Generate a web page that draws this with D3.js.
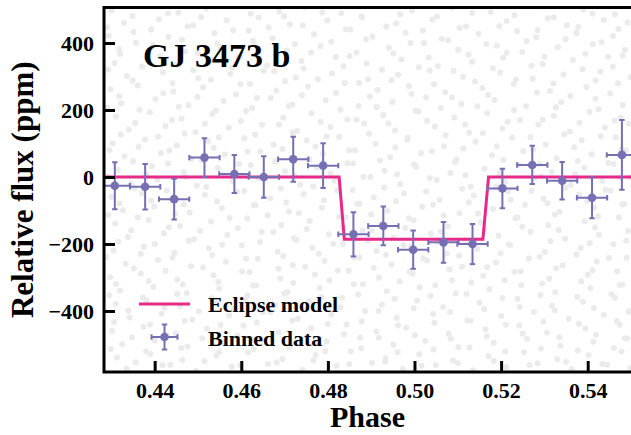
<!DOCTYPE html>
<html>
<head>
<meta charset="utf-8">
<script src="https://cdn.jsdelivr.net/npm/d3@7"></script>
<style>
    body { margin: 0; background: white; }
    svg { display: block; font-family: "Liberation Serif", "Times New Roman", serif; font-weight: bold; }
</style>
</head>
<body>
<svg id="chart"></svg>
<script>
// Binned secondary eclipse data (phase, relative flux in ppm)
const binPhase = [0.4308, 0.4378, 0.4445, 0.4515, 0.4584, 0.4652, 0.4720, 0.4789, 0.4859,
    0.4928, 0.4997, 0.5067, 0.5134, 0.5203, 0.5272, 0.5341, 0.5410, 0.5479]
const binFlux = [-26, -29, -66, 58, 9, 0, 53, 34, -171, -146, -217, -195, -200, -34, 36, -11, -62, 66]
const binFluxErr = [70, 68, 61, 58, 57, 62, 67, 67, 66, 58, 57, 61, 60, 59, 57, 56, 61, 104]
const binPhaseErr = 0.0035

// Eclipse model
const modelPhase = [0.420, 0.4826, 0.4838, 0.5158, 0.5171, 0.560]
const modelFlux = [0, 0, -186, -186, 0, 0]

// Unbinned points (grey background), [phase, ppm]
const rawPoints = [
    [0.4301,498],[0.4372,512],[0.4455,490],[0.4519,503],[0.4603,515],[0.4688,494],[0.4747,507],[0.4831,489],[0.4920,511],[0.4994,497],[0.5087,505],[0.5176,492],[0.5262,509],[0.5390,499],[0.5463,486],
    [0.4329,460],[0.4410,471],[0.4489,452],[0.4566,468],[0.4640,476],[0.4712,455],[0.4799,467],[0.4877,479],[0.4958,458],[0.5041,470],[0.5119,449],[0.5213,466],[0.5308,474],[0.5352,453],[0.5437,469],[0.5492,461],
    [0.4294,422],[0.4351,433],[0.4432,418],[0.4538,429],[0.4617,437],[0.4672,414],[0.4768,426],[0.4852,440],[0.4903,419],[0.4979,431],[0.5063,412],[0.5148,428],[0.5237,436],[0.5281,417],[0.5374,430],[0.5458,421],
    [0.4318,382],[0.4396,394],[0.4470,375],[0.4551,389],[0.4629,398],[0.4705,378],[0.4783,391],[0.4866,372],[0.4941,386],[0.5022,399],[0.5101,380],[0.5190,392],[0.5249,373],[0.5331,387],[0.5412,396],[0.5486,379],
    [0.4307,340],[0.4383,352],[0.4448,336],[0.4527,348],[0.4594,357],[0.4660,333],[0.4739,346],[0.4818,358],[0.4889,339],[0.4970,351],[0.5054,331],[0.5133,344],[0.5205,356],[0.5296,337],[0.5366,349],[0.5447,359],
    [0.4336,301],[0.4419,312],[0.4501,295],[0.4575,308],[0.4652,317],[0.4726,297],[0.4810,309],[0.4893,292],[0.4962,305],[0.5035,318],[0.5112,299],[0.5198,311],[0.5273,293],[0.5344,306],[0.5429,315],[0.5499,298],
    [0.4298,262],[0.4361,273],[0.4443,255],[0.4512,268],[0.4598,277],[0.4681,258],[0.4754,270],[0.4839,281],[0.4915,260],[0.4987,272],[0.5071,253],[0.5157,266],[0.5229,278],[0.5313,257],[0.5397,269],[0.5470,280],
    [0.4323,220],[0.4402,232],[0.4478,214],[0.4559,227],[0.4636,236],[0.4718,216],[0.4795,229],[0.4871,212],[0.4949,224],[0.5027,237],[0.5108,218],[0.5185,230],[0.5258,211],[0.5339,223],[0.5418,234],[0.5481,215],
    [0.4311,181],[0.4389,193],[0.4462,175],[0.4533,188],[0.4611,197],[0.4697,177],[0.4762,190],[0.4845,172],[0.4928,185],[0.5009,196],[0.5092,178],[0.5168,191],[0.5244,170],[0.5322,183],[0.5404,195],[0.5476,176],
    [0.4340,141],[0.4425,152],[0.4494,134],[0.4571,147],[0.4648,156],[0.4729,137],[0.4806,149],[0.4884,160],[0.4955,139],[0.5047,151],[0.5126,132],[0.5203,145],[0.5286,157],[0.5359,136],[0.5440,148],[0.5495,159],
    [0.4303,100],[0.4378,112],[0.4451,94],[0.4523,107],[0.4607,116],[0.4675,96],[0.4751,109],[0.4826,120],[0.4910,99],[0.4983,111],[0.5068,92],[0.5141,105],[0.5226,117],[0.5303,97],[0.5386,110],[0.5465,119],
    [0.4330,61],[0.4414,72],[0.4485,54],[0.4562,67],[0.4644,76],[0.4715,57],[0.4789,69],[0.4862,80],[0.4944,59],[0.5015,71],[0.5097,52],[0.5179,65],[0.5251,77],[0.5328,56],[0.5409,68],[0.5488,79],
    [0.4315,21],[0.4393,32],[0.4467,14],[0.4546,27],[0.4622,36],[0.4701,17],[0.4774,29],[0.4858,40],[0.4931,19],[0.5004,31],[0.5083,12],[0.5162,25],[0.5240,37],[0.5317,16],[0.5392,28],[0.5460,39],
    [0.4345,-19],[0.4406,-8],[0.4497,-26],[0.4580,-13],[0.4656,-4],[0.4736,-23],[0.4815,-11],[0.4898,0],[0.4967,-21],[0.5051,-9],[0.5130,-28],[0.5209,-15],[0.5279,-3],[0.5361,-24],[0.5434,-12],[0.5497,-1],
    [0.4300,-60],[0.4371,-48],[0.4438,-66],[0.4516,-53],[0.4590,-44],[0.4667,-63],[0.4744,-51],[0.4822,-40],[0.4906,-61],[0.4976,-49],[0.5058,-68],[0.5137,-55],[0.5216,-43],[0.5298,-64],[0.5380,-52],[0.5453,-41],
    [0.4327,-99],[0.4399,-88],[0.4481,-106],[0.4555,-93],[0.4633,-84],[0.4710,-103],[0.4786,-91],[0.4868,-80],[0.4938,-101],[0.5018,-89],[0.5104,-108],[0.5181,-95],[0.5255,-83],[0.5335,-104],[0.5415,-92],[0.5484,-81],
    [0.4309,-139],[0.4386,-128],[0.4459,-146],[0.4530,-133],[0.4614,-124],[0.4692,-143],[0.4758,-131],[0.4841,-120],[0.4922,-141],[0.4998,-129],[0.5077,-148],[0.5153,-135],[0.5233,-123],[0.5309,-144],[0.5393,-132],[0.5472,-121],
    [0.4338,-179],[0.4421,-168],[0.4491,-186],[0.4568,-173],[0.4647,-164],[0.4722,-183],[0.4802,-171],[0.4880,-160],[0.4952,-181],[0.5038,-169],[0.5116,-188],[0.5194,-175],[0.5268,-163],[0.5348,-184],[0.5426,-172],[0.5493,-161],
    [0.4305,-219],[0.4375,-208],[0.4446,-226],[0.4525,-213],[0.4601,-204],[0.4684,-223],[0.4764,-211],[0.4835,-200],[0.4913,-221],[0.4991,-209],[0.5074,-228],[0.5145,-215],[0.5221,-203],[0.5301,-224],[0.5384,-212],[0.5459,-201],
    [0.4333,-259],[0.4408,-248],[0.4484,-266],[0.4564,-253],[0.4638,-244],[0.4719,-263],[0.4792,-251],[0.4873,-240],[0.4947,-261],[0.5029,-249],[0.5110,-268],[0.5188,-255],[0.5264,-243],[0.5342,-264],[0.5421,-252],[0.5490,-241],
    [0.4297,-299],[0.4368,-288],[0.4452,-306],[0.4536,-293],[0.4619,-284],[0.4690,-303],[0.4770,-291],[0.4848,-280],[0.4918,-301],[0.4996,-289],[0.5086,-308],[0.5159,-295],[0.5231,-283],[0.5311,-304],[0.5400,-292],[0.5468,-281],
    [0.4320,-339],[0.4397,-328],[0.4474,-346],[0.4549,-333],[0.4627,-324],[0.4707,-343],[0.4781,-331],[0.4860,-320],[0.4936,-341],[0.5012,-329],[0.5095,-348],[0.5173,-335],[0.5247,-323],[0.5325,-344],[0.5406,-332],[0.5480,-321],
    [0.4310,-379],[0.4381,-368],[0.4458,-386],[0.4540,-373],[0.4609,-364],[0.4679,-383],[0.4757,-371],[0.4833,-360],[0.4925,-381],[0.5006,-369],[0.5066,-388],[0.5150,-375],[0.5238,-363],[0.5318,-384],[0.5389,-372],[0.5463,-361],
    [0.4342,-419],[0.4416,-408],[0.4487,-426],[0.4572,-413],[0.4650,-404],[0.4731,-423],[0.4808,-411],[0.4886,-400],[0.4959,-421],[0.5043,-409],[0.5122,-428],[0.5200,-415],[0.5276,-403],[0.5356,-424],[0.5437,-412],[0.5496,-401],
    [0.4302,-459],[0.4374,-448],[0.4449,-466],[0.4521,-453],[0.4605,-444],[0.4686,-463],[0.4761,-451],[0.4843,-440],[0.4912,-461],[0.4981,-449],[0.5079,-468],[0.5164,-455],[0.5242,-443],[0.5306,-464],[0.5395,-452],[0.5474,-441],
    [0.4325,-499],[0.4400,-488],[0.4476,-506],[0.4557,-493],[0.4631,-484],[0.4713,-503],[0.4797,-491],[0.4875,-480],[0.4951,-501],[0.5025,-489],[0.5101,-508],[0.5183,-495],[0.5260,-483],[0.5337,-504],[0.5413,-492],[0.5486,-481],
    [0.4313,-539],[0.4390,-528],[0.4464,-546],[0.4543,-533],[0.4616,-524],[0.4695,-543],[0.4772,-531],[0.4853,-520],[0.4933,-541],[0.5011,-529],[0.5089,-548],[0.5171,-535],[0.5253,-523],[0.5330,-544],[0.5402,-532],[0.5478,-521],
    [0.4335,-572],[0.4418,-562],[0.4495,-578],[0.4578,-566],[0.4662,-558],[0.4741,-575],[0.4820,-563],[0.4902,-555],[0.4973,-573],[0.5049,-561],[0.5135,-577],[0.5212,-567],[0.5284,-556],[0.5363,-574],[0.5445,-560],[0.5499,-570],
    [0.4349,481],[0.4431,489],[0.4507,478],[0.4622,487],[0.4699,480],[0.4787,491],[0.4879,476],[0.4967,486],[0.5052,479],[0.5133,490],[0.5231,483],[0.5322,477],[0.5411,488],
    [0.4290,447],[0.4392,440],[0.4476,450],[0.4581,438],[0.4663,446],[0.4742,452],[0.4841,441],[0.4935,449],[0.5019,437],[0.5104,445],[0.5196,451],[0.5284,439],[0.5378,448],[0.5471,442],
    [0.4357,401],[0.4463,410],[0.4545,399],[0.4627,407],[0.4724,396],[0.4808,404],[0.4888,411],[0.4991,400],[0.5078,408],[0.5166,397],[0.5259,405],[0.5349,412],[0.5432,402],
    [0.4320,367],[0.4412,360],[0.4500,370],[0.4597,358],[0.4683,366],[0.4761,372],[0.4850,361],[0.4951,369],[0.5033,357],[0.5125,365],[0.5213,371],[0.5300,359],[0.5395,368],[0.5481,362],
    [0.4293,321],[0.4371,330],[0.4489,319],[0.4579,327],[0.4676,316],[0.4744,324],[0.4836,331],[0.4925,320],[0.5010,328],[0.5090,317],[0.5181,325],[0.5270,332],[0.5388,322],[0.5458,329],
    [0.4349,287],[0.4441,280],[0.4530,290],[0.4620,278],[0.4701,286],[0.4777,292],[0.4872,281],[0.4947,289],[0.5045,277],[0.5140,285],[0.5234,291],[0.5321,279],[0.5418,288],
    [0.4318,241],[0.4420,250],[0.4499,239],[0.4588,247],[0.4668,236],[0.4740,244],[0.4819,251],[0.4897,240],[0.4993,248],[0.5087,237],[0.5170,245],[0.5283,252],[0.5360,242],[0.5452,249],
    [0.4291,207],[0.4365,200],[0.4456,210],[0.4541,198],[0.4625,206],[0.4710,212],[0.4829,201],[0.4913,209],[0.5002,197],[0.5061,205],[0.5145,211],[0.5230,199],[0.5327,208],[0.5425,202],
    [0.4355,161],[0.4440,170],[0.4516,159],[0.4599,167],[0.4687,156],[0.4783,164],[0.4866,171],[0.4940,160],[0.5029,168],[0.5117,157],[0.5215,165],[0.5296,172],[0.5381,162],[0.5462,169],
    [0.4322,127],[0.4408,120],[0.4469,130],[0.4548,118],[0.4632,126],[0.4719,132],[0.4797,121],[0.4895,129],[0.4985,117],[0.5072,125],[0.5158,131],[0.5268,119],[0.5346,128],[0.5430,122],
    [0.4296,81],[0.4363,90],[0.4434,79],[0.4536,87],[0.4615,76],[0.4695,84],[0.4771,91],[0.4849,80],[0.4956,88],[0.5040,77],[0.5113,85],[0.5190,92],[0.5274,82],[0.5369,89],[0.5478,83],
    [0.4350,47],[0.4431,40],[0.4509,50],[0.4595,38],[0.4678,46],[0.4757,52],[0.4845,41],[0.4920,49],[0.4999,37],[0.5094,45],[0.5205,51],[0.5289,39],[0.5377,48],[0.5448,42],
    [0.4292,1],[0.4380,10],[0.4472,-1],[0.4558,7],[0.4639,-4],[0.4723,4],[0.4806,11],[0.4882,0],[0.4960,8],[0.5035,-3],[0.5118,5],[0.5197,12],[0.5292,2],[0.5371,9],[0.5473,-2],
    [0.4354,-33],[0.4428,-40],[0.4519,-30],[0.4607,-42],[0.4691,-34],[0.4766,-28],[0.4857,-39],[0.4930,-31],[0.5027,-43],[0.5110,-35],[0.5189,-29],[0.5270,-41],[0.5349,-32],[0.5441,-38],
    [0.4319,-79],[0.4392,-70],[0.4467,-81],[0.4544,-73],[0.4629,-84],[0.4704,-76],[0.4791,-69],[0.4873,-80],[0.4957,-72],[0.5043,-83],[0.5125,-75],[0.5222,-68],[0.5307,-78],[0.5399,-71],[0.5480,-82],
    [0.4293,-113],[0.4361,-120],[0.4447,-110],[0.4573,-122],[0.4661,-114],[0.4733,-108],[0.4826,-119],[0.4900,-111],[0.4987,-123],[0.5067,-115],[0.5147,-109],[0.5238,-121],[0.5324,-112],[0.5424,-118],
    [0.4346,-159],[0.4433,-150],[0.4505,-161],[0.4592,-153],[0.4674,-164],[0.4751,-156],[0.4835,-149],[0.4901,-160],[0.4979,-152],[0.5061,-163],[0.5162,-155],[0.5249,-148],[0.5333,-158],[0.5417,-151],
    [0.4316,-193],[0.4400,-200],[0.4479,-190],[0.4556,-202],[0.4643,-194],[0.4728,-188],[0.4812,-199],[0.4892,-191],[0.4975,-203],[0.5054,-195],[0.5139,-189],[0.5217,-201],[0.5314,-192],[0.5405,-198],[0.5489,-190],
    [0.4288,-239],[0.4368,-230],[0.4441,-241],[0.4533,-233],[0.4611,-244],[0.4697,-236],[0.4779,-229],[0.4860,-240],[0.4934,-232],[0.5020,-243],[0.5103,-235],[0.5199,-228],[0.5289,-238],[0.5374,-231],[0.5449,-242],
    [0.4352,-273],[0.4425,-280],[0.4512,-270],[0.4602,-282],[0.4686,-274],[0.4748,-268],[0.4823,-279],[0.4906,-271],[0.4989,-283],[0.5081,-275],[0.5168,-269],[0.5245,-281],[0.5327,-272],[0.5411,-278],
    [0.4311,-319],[0.4386,-310],[0.4465,-321],[0.4547,-313],[0.4634,-324],[0.4720,-316],[0.4804,-309],[0.4881,-320],[0.4966,-312],[0.5048,-323],[0.5131,-315],[0.5208,-308],[0.5295,-318],[0.5385,-311],[0.5474,-322],
    [0.4295,-353],[0.4373,-360],[0.4452,-350],[0.4531,-362],[0.4614,-354],[0.4700,-348],[0.4785,-359],[0.4870,-351],[0.4954,-363],[0.5037,-355],[0.5120,-349],[0.5203,-361],[0.5291,-352],[0.5376,-358],[0.5455,-350],
    [0.4339,-399],[0.4423,-390],[0.4502,-401],[0.4584,-393],[0.4667,-404],[0.4745,-396],[0.4829,-389],[0.4917,-400],[0.4998,-392],[0.5082,-403],[0.5161,-395],[0.5243,-388],[0.5324,-398],[0.5414,-391],[0.5494,-402],
    [0.4306,-433],[0.4389,-440],[0.4469,-430],[0.4552,-442],[0.4636,-434],[0.4718,-428],[0.4800,-439],[0.4878,-431],[0.4962,-443],[0.5046,-435],[0.5129,-429],[0.5211,-441],[0.5298,-432],[0.5380,-438],[0.5467,-430],
    [0.4348,-479],[0.4427,-470],[0.4510,-481],[0.4591,-473],[0.4671,-484],[0.4752,-476],[0.4837,-469],[0.4918,-480],[0.5001,-472],[0.5084,-483],[0.5167,-475],[0.5250,-468],[0.5335,-478],[0.5419,-471],[0.5491,-482],
    [0.4299,-513],[0.4380,-520],[0.4461,-510],[0.4549,-522],[0.4629,-514],[0.4711,-508],[0.4794,-519],[0.4877,-511],[0.4961,-523],[0.5044,-515],[0.5127,-509],[0.5210,-521],[0.5292,-512],[0.5377,-518],[0.5461,-510],
    [0.4356,-553],[0.4436,-560],[0.4515,-550],[0.4598,-562],[0.4682,-554],[0.4767,-548],[0.4849,-559],[0.4932,-551],[0.5016,-563],[0.5100,-555],[0.5183,-549],[0.5266,-561],[0.5350,-552],[0.5434,-558]
]

// Ticks and labels
const xTicks = [0.44, 0.46, 0.48, 0.50, 0.52, 0.54]
const yTicks = [-400, -200, 0, 200, 400]
const planetName = "GJ 3473 b"
const legendLabels = ["Eclipse model", "Binned data"]

const width = 631
const height = 435
const plot = { left: 104, right: 631, top: 7.5, bottom: 372 }
const model_color = "#e7298a"
const data_color = "#7570b3"

const svg = d3.select("#chart")
    .attr("width", width)
    .attr("height", height)

const x = d3.scaleLinear()
    .domain([0.4283, 0.5500])
    .range([plot.left, plot.right])

const y = d3.scaleLinear()
    .domain([-582, 506])
    .range([plot.bottom, plot.top])

svg.append("clipPath")
    .attr("id", "plot_clip")
    .append("rect")
    .attr("x", plot.left)
    .attr("y", plot.top)
    .attr("width", plot.right - plot.left)
    .attr("height", plot.bottom - plot.top)

const g = svg.append("g").attr("clip-path", "url(#plot_clip)")

// Raw points
g.selectAll(".raw")
    .data(rawPoints)
    .enter()
    .append("circle")
    .attr("cx", d => x(d[0]))
    .attr("cy", d => y(d[1]))
    .attr("r", 3)
    .attr("fill", "#ebebeb")

// Model
const model_line = d3.line()
    .x(d => x(d[0]))
    .y(d => y(d[1]))

g.append("path")
    .datum(modelPhase.map((p, i) => [p, modelFlux[i]]))
    .attr("d", model_line)
    .attr("fill", "none")
    .attr("stroke", model_color)
    .attr("stroke-width", 3)

// Error bars drawn as one small group per bin
function drawErrorBar(parent, cx, cy, dx, dy) {
    const cap = 2.7
    const bar = parent.append("g")
        .attr("stroke", data_color)
        .attr("stroke-width", 2)
    bar.append("line").attr("x1", cx - dx).attr("x2", cx + dx).attr("y1", cy).attr("y2", cy)
    bar.append("line").attr("x1", cx).attr("x2", cx).attr("y1", cy - dy).attr("y2", cy + dy)
    bar.append("line").attr("x1", cx - dx).attr("x2", cx - dx).attr("y1", cy - cap).attr("y2", cy + cap)
    bar.append("line").attr("x1", cx + dx).attr("x2", cx + dx).attr("y1", cy - cap).attr("y2", cy + cap)
    bar.append("line").attr("x1", cx - cap).attr("x2", cx + cap).attr("y1", cy - dy).attr("y2", cy - dy)
    bar.append("line").attr("x1", cx - cap).attr("x2", cx + cap).attr("y1", cy + dy).attr("y2", cy + dy)
    parent.append("circle")
        .attr("cx", cx)
        .attr("cy", cy)
        .attr("r", 4.3)
        .attr("fill", data_color)
}

binPhase.forEach(function(p, i) {
    const cx = x(p)
    const cy = y(binFlux[i])
    const dx = x(p + binPhaseErr) - cx
    const dy = y(binFlux[i] - binFluxErr[i]) - cy
    drawErrorBar(g, cx, cy, dx, dy)
})

// Axes (ticks point inward)
const x_axis = svg.append("g")
    .attr("transform", `translate(0,${plot.bottom})`)
    .call(d3.axisBottom(x).tickValues(xTicks).tickFormat(d3.format(".2f")).tickSize(-11).tickPadding(10))
const y_axis = svg.append("g")
    .attr("transform", `translate(${plot.left},0)`)
    .call(d3.axisLeft(y).tickValues(yTicks).tickSize(-11).tickPadding(10))

for (const axis of [x_axis, y_axis]) {
    axis.select(".domain").remove()
    axis.selectAll(".tick line").attr("stroke", "black").attr("stroke-width", 3)
    axis.selectAll(".tick text")
        .attr("fill", "black")
        .attr("font-family", "Liberation Serif, serif")
        .attr("font-weight", "bold")
        .attr("font-size", "22px")
}

// Spines
svg.append("path")
    .attr("d", `M${plot.right + 2},${plot.top}H${plot.left}V${plot.bottom}H${plot.right + 2}`)
    .attr("fill", "none")
    .attr("stroke", "black")
    .attr("stroke-width", 3)

// Axis labels
svg.append("text")
    .attr("x", (plot.left + plot.right) / 2)
    .attr("y", 427)
    .attr("text-anchor", "middle")
    .attr("font-size", "30px")
    .text("Phase")

svg.append("text")
    .attr("transform", `translate(33,${(plot.top + plot.bottom) / 2}) rotate(-90)`)
    .attr("text-anchor", "middle")
    .attr("font-size", "31px")
    .text("Relative flux (ppm)")

// Title
svg.append("text")
    .attr("x", 143)
    .attr("y", 67)
    .attr("font-size", "34px")
    .text(planetName)

// Legend
const legend = svg.append("g")
legend.append("line")
    .attr("x1", 139).attr("x2", 190)
    .attr("y1", 304).attr("y2", 304)
    .attr("stroke", model_color)
    .attr("stroke-width", 3)
drawErrorBar(legend, 164.5, 337, 13, 12.5)
legend.selectAll("text.leg")
    .data(legendLabels)
    .enter()
    .append("text")
    .attr("class", "leg")
    .attr("x", 208)
    .attr("y", (d, i) => 312 + i * 34)
    .attr("font-size", "22px")
    .text(d => d)
</script>
</body>
</html>
